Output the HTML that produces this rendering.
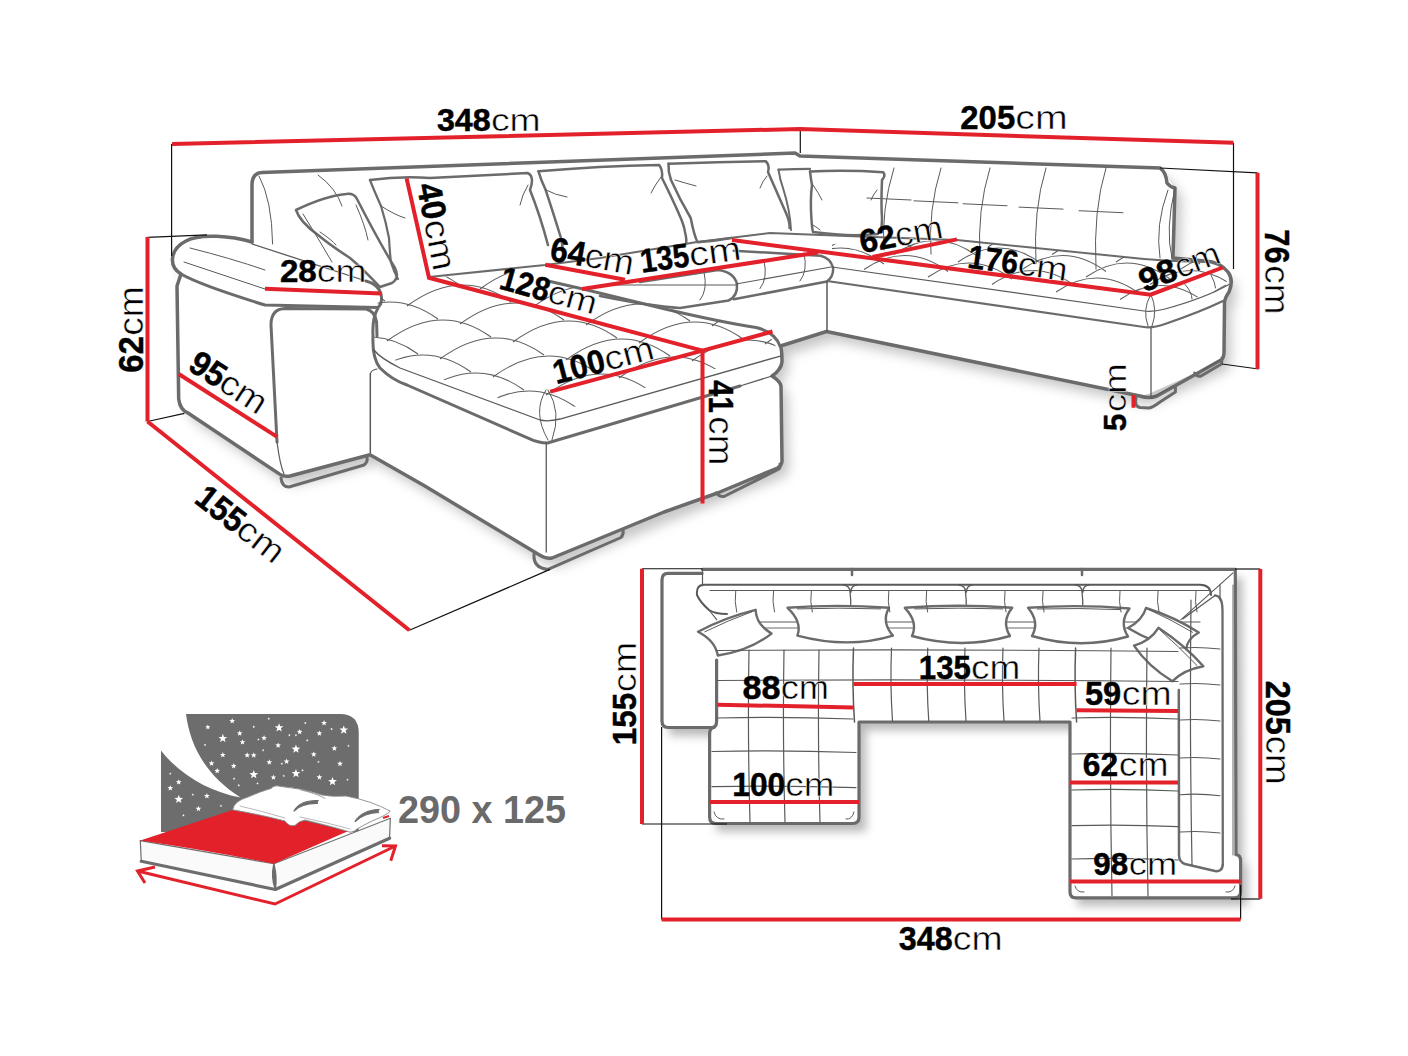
<!DOCTYPE html>
<html><head><meta charset="utf-8"><title>sofa</title>
<style>
html,body{margin:0;padding:0;background:#fff;width:1408px;height:1056px;overflow:hidden}
svg{display:block}
text{font-family:"Liberation Sans",sans-serif}
</style></head><body>
<svg width="1408" height="1056" viewBox="0 0 1408 1056">
<defs>
<filter id="blur" x="-20%" y="-20%" width="140%" height="140%"><feGaussianBlur stdDeviation="6"/></filter>
<filter id="blur2" x="-20%" y="-20%" width="140%" height="140%"><feGaussianBlur stdDeviation="5"/></filter>
</defs>
<rect width="1408" height="1056" fill="#fff"/>
<g filter="url(#blur)"><path d="M252,173 L795,153 L800,156 L1160,168 L1175,188 L1173,258 L1228,272 L1229,292 L1224,302 L1224,352 L1221,361.5 L1148.5,394 L1140,396 L826.5,331.5 L780.5,346 L782,362 L772,376 L781,386 L782,461 L777.5,468 L664,512 L552,558 L538.7,554.4 L424,485.6 L370,454.7 L290,476 L280,474.4 L188,413 L178.7,399 L177,286 L181,274 L172,262 L186,241 L252,242 Z" transform="translate(7,9)" fill="#000" opacity="0.22"/></g>
<path d="M252,173 L795,153 L800,156 L1160,168 L1175,188 L1173,258 L1228,272 L1229,292 L1224,302 L1224,352 L1221,361.5 L1148.5,394 L1140,396 L826.5,331.5 L780.5,346 L782,362 L772,376 L781,386 L782,461 L777.5,468 L664,512 L552,558 L538.7,554.4 L424,485.6 L370,454.7 L290,476 L280,474.4 L188,413 L178.7,399 L177,286 L181,274 L172,262 L186,241 L252,242 Z" fill="#fff"/>
<path d="M252,242 L252,185 Q252,173 262,172.5 L795,153 L800,156 L1160,168 Q1166,172 1167,183 Q1170,187 1175,188 L1173,258" fill="none" stroke="#6b6b6b" stroke-width="3.5" stroke-linejoin="round" stroke-linecap="round" />
<path d="M252,242 C232,236 200,233 186,241 C170,249 168,266 181,274 L177,286 L178.7,399 Q180,410 188,413 L280,474.4 Q284,477 290,476 L370,454.7 L424,485.6 L538.7,554.4 Q546,559 552,558 L664,512 L717.5,493 L777.5,468 Q782,465 782,461 L781,386 Q780,381 772,376 Q781,370 782,362 Q782,350 780.5,346 L826.5,331.5 L1140,396 Q1149,399 1157,396 L1221,360 Q1224,358 1224,352 L1224.5,304 Q1224,299 1229,292 Q1234,280 1228,272 Q1220,262 1205,261 L1173,258" fill="none" stroke="#6b6b6b" stroke-width="3.5" stroke-linejoin="round" stroke-linecap="round" />
<path d="M181,274 Q200,285 265,305 L377.5,307.5 Q383,304 381,294 Q378,284 366,281" fill="none" stroke="#6b6b6b" stroke-width="3" stroke-linejoin="round" stroke-linecap="round" />
<path d="M252,244 L366,281" fill="none" stroke="#5a5a5a" stroke-width="1.3" stroke-linejoin="round" stroke-linecap="round" />
<path d="M184,262 L265,289" fill="none" stroke="#5a5a5a" stroke-width="1" stroke-linejoin="round" stroke-linecap="round" />
<path d="M190,248 Q230,258 265,270" fill="none" stroke="#5a5a5a" stroke-width="1" stroke-linejoin="round" stroke-linecap="round" />
<path d="M377,336 L376.6,322 Q375,311 366,309 L285,308.5 Q271,309 271,325 L277,442" fill="none" stroke="#6b6b6b" stroke-width="3" stroke-linejoin="round" stroke-linecap="round" />
<path d="M277,442 Q280,465 284,474" fill="none" stroke="#5a5a5a" stroke-width="1.2" stroke-linejoin="round" stroke-linecap="round" />
<path d="M281,478 Q282,487 289,487 L364,465 Q368,462 367,457" fill="none" stroke="#6b6b6b" stroke-width="3" stroke-linejoin="round" stroke-linecap="round" />
<path d="M534,554 Q533,568 548,569.4 L621,537.5 Q624,534 623,530" fill="none" stroke="#6b6b6b" stroke-width="3" stroke-linejoin="round" stroke-linecap="round" />
<path d="M716.5,492.75 Q719,497 724,496.5 L779,469 Q781,466 780,464" fill="none" stroke="#6b6b6b" stroke-width="3" stroke-linejoin="round" stroke-linecap="round" />
<path d="M1136,398 Q1134,406 1140,407.5 L1148.6,408 Q1152,408 1160,402 L1175.4,392 L1175.4,387" fill="none" stroke="#6b6b6b" stroke-width="3" stroke-linejoin="round" stroke-linecap="round" />
<path d="M1151,398 L1173,386" fill="none" stroke="#5a5a5a" stroke-width="1" stroke-linejoin="round" stroke-linecap="round" />
<path d="M1194.6,373 Q1197,377 1201,376 L1221.5,364 L1222,358" fill="none" stroke="#6b6b6b" stroke-width="3" stroke-linejoin="round" stroke-linecap="round" />
<path d="M1203,370 L1220,360" fill="none" stroke="#5a5a5a" stroke-width="1" stroke-linejoin="round" stroke-linecap="round" />
<path d="M378,308 Q372,318 373,336 Q372,358 380,368 Q392,380 407,385 L528.7,438.4 Q538,443 547.5,443 L740,386" fill="none" stroke="#6b6b6b" stroke-width="3" stroke-linejoin="round" stroke-linecap="round" />
<path d="M740,386 L772,376" fill="none" stroke="#5a5a5a" stroke-width="1.3" stroke-linejoin="round" stroke-linecap="round" />
<path d="M374,350 Q380,358 400,368 L540,420 Q548,422 560,419 L780.5,356" fill="none" stroke="#5a5a5a" stroke-width="1.3" stroke-linejoin="round" stroke-linecap="round" />
<path d="M370.3,374 L370.3,452.5" fill="none" stroke="#5a5a5a" stroke-width="1.5" stroke-linejoin="round" stroke-linecap="round" />
<path d="M370.3,374 Q371,370 377,369" fill="none" stroke="#5a5a5a" stroke-width="1.2" stroke-linejoin="round" stroke-linecap="round" />
<path d="M546.25,443 L546.25,552" fill="none" stroke="#5a5a5a" stroke-width="1.3" stroke-linejoin="round" stroke-linecap="round" />
<path d="M548,281 L583,289 L664,308.8 Q720,322 756,327.5 Q775,332 780,346" fill="none" stroke="#6b6b6b" stroke-width="3" stroke-linejoin="round" stroke-linecap="round" />
<path d="M600,296 Q650,306 680,308 L728.6,300.5 Q738,296 737,284 Q734,272 718,270 L640,282" fill="none" stroke="#6b6b6b" stroke-width="2.5" stroke-linejoin="round" stroke-linecap="round" />
<path d="M600,285 L736,285" fill="none" stroke="#5a5a5a" stroke-width="1.1" stroke-linejoin="round" stroke-linecap="round" />
<path d="M733.7,299.3 L827,281.4 Q834,276 833,267.3 Q830,258 820.6,255.8 L733.7,250.7" fill="none" stroke="#6b6b6b" stroke-width="2.5" stroke-linejoin="round" stroke-linecap="round" />
<path d="M736,284 L831,267" fill="none" stroke="#5a5a5a" stroke-width="1.1" stroke-linejoin="round" stroke-linecap="round" />
<path d="M827,281 L827,331.2" fill="none" stroke="#5a5a5a" stroke-width="1.5" stroke-linejoin="round" stroke-linecap="round" />
<path d="M832,267 L1144,311 Q1152,312.5 1165,309 Q1205,298 1229,284.5" fill="none" stroke="#5a5a5a" stroke-width="1.2" stroke-linejoin="round" stroke-linecap="round" />
<path d="M827,281 L1144,327 Q1152,328.5 1165,324 Q1200,312 1223,301" fill="none" stroke="#6b6b6b" stroke-width="2.2" stroke-linejoin="round" stroke-linecap="round" />
<path d="M957,240 L1144,259 Q1180,262 1212,262" fill="none" stroke="#6b6b6b" stroke-width="2" stroke-linejoin="round" stroke-linecap="round" />
<path d="M429,277 L545,265 L600,258 L697,242 L770,233 L860,236.6 L957,240" fill="none" stroke="#6b6b6b" stroke-width="2" stroke-linejoin="round" stroke-linecap="round" />
<path d="M1175,188 Q1165,230 1172,258" fill="none" stroke="#5a5a5a" stroke-width="1" stroke-linejoin="round" stroke-linecap="round" />
<path d="M1168,190 Q1155,225 1160,258" fill="none" stroke="#5a5a5a" stroke-width="1" stroke-linejoin="round" stroke-linecap="round" />
<path d="M1150.6,294.7 Q1142,310 1148,326" fill="none" stroke="#5a5a5a" stroke-width="1" stroke-linejoin="round" stroke-linecap="round" />
<path d="M1151,294.7 Q1158,310 1152,326" fill="none" stroke="#5a5a5a" stroke-width="1" stroke-linejoin="round" stroke-linecap="round" />
<path d="M1151,328 L1151,398" fill="none" stroke="#5a5a5a" stroke-width="1.3" stroke-linejoin="round" stroke-linecap="round" />
<path d="M894,168 Q881,210 884,250.0" fill="none" stroke="#5a5a5a" stroke-width="1" stroke-linejoin="round" stroke-linecap="round" />
<path d="M867,198.0 L911,200.0" fill="none" stroke="#5a5a5a" stroke-width="1" stroke-linejoin="round" stroke-linecap="round" />
<path d="M941,168 Q928,210 931,254.23" fill="none" stroke="#5a5a5a" stroke-width="1" stroke-linejoin="round" stroke-linecap="round" />
<path d="M914,200.82 L958,202.82" fill="none" stroke="#5a5a5a" stroke-width="1" stroke-linejoin="round" stroke-linecap="round" />
<path d="M990,168 Q977,210 980,258.64" fill="none" stroke="#5a5a5a" stroke-width="1" stroke-linejoin="round" stroke-linecap="round" />
<path d="M963,203.76 L1007,205.76" fill="none" stroke="#5a5a5a" stroke-width="1" stroke-linejoin="round" stroke-linecap="round" />
<path d="M1046,168 Q1033,210 1036,263.68" fill="none" stroke="#5a5a5a" stroke-width="1" stroke-linejoin="round" stroke-linecap="round" />
<path d="M1019,207.12 L1063,209.12" fill="none" stroke="#5a5a5a" stroke-width="1" stroke-linejoin="round" stroke-linecap="round" />
<path d="M1106,168 Q1093,210 1096,269.08" fill="none" stroke="#5a5a5a" stroke-width="1" stroke-linejoin="round" stroke-linecap="round" />
<path d="M1079,210.72 L1123,212.72" fill="none" stroke="#5a5a5a" stroke-width="1" stroke-linejoin="round" stroke-linecap="round" />
<path d="M259,176 Q272,200 272.6,244" fill="none" stroke="#5a5a5a" stroke-width="1" stroke-linejoin="round" stroke-linecap="round" />
<path d="M318,175 Q336,188 342,206" fill="none" stroke="#5a5a5a" stroke-width="1" stroke-linejoin="round" stroke-linecap="round" />
<path d="M296,210 Q325,196 346,194 Q354,193 357,199 Q378,240 395,268 Q400,278 392,283 L380,287 Q362,268 350,258 Q330,245 318,235 Q300,222 296,210 Z" fill="none" stroke="#6b6b6b" stroke-width="2.5" stroke-linejoin="round" stroke-linecap="round" />
<path d="M303,214 Q318,238 332,262" fill="none" stroke="#5a5a5a" stroke-width="1" stroke-linejoin="round" stroke-linecap="round" />
<path d="M320,232 Q332,240 336,245" fill="none" stroke="#5a5a5a" stroke-width="1" stroke-linejoin="round" stroke-linecap="round" />
<path d="M356,205 Q365,225 368,240" fill="none" stroke="#5a5a5a" stroke-width="1" stroke-linejoin="round" stroke-linecap="round" />
<path d="M370,180 Q400,176 430,178 L527.5,173 Q535,176 530,190 Q540,215 548,245" fill="none" stroke="#6b6b6b" stroke-width="2.5" stroke-linejoin="round" stroke-linecap="round" />
<path d="M370,180 Q373,188 381,206 Q386,222 389,238 Q390,255 391,262.5 Q394,272 398,279" fill="none" stroke="#6b6b6b" stroke-width="2.2" stroke-linejoin="round" stroke-linecap="round" />
<path d="M381,206 Q395,215 405,218" fill="none" stroke="#5a5a5a" stroke-width="1" stroke-linejoin="round" stroke-linecap="round" />
<path d="M528,185 Q522,195 520,205" fill="none" stroke="#5a5a5a" stroke-width="1" stroke-linejoin="round" stroke-linecap="round" />
<path d="M538.5,171.3 Q600,166 659.2,165 Q663,170 662,178 Q672,198 679,214 Q684,225 685,232 Q687,240 686,244" fill="none" stroke="#6b6b6b" stroke-width="2.5" stroke-linejoin="round" stroke-linecap="round" />
<path d="M538.5,171.3 Q541,180 545.6,189.8 Q553,212 561,238 Q562,243 563,250" fill="none" stroke="#6b6b6b" stroke-width="2.5" stroke-linejoin="round" stroke-linecap="round" />
<path d="M545.6,189.8 Q555,195 567,197" fill="none" stroke="#5a5a5a" stroke-width="1" stroke-linejoin="round" stroke-linecap="round" />
<path d="M661,177 Q655,185 651,193" fill="none" stroke="#5a5a5a" stroke-width="1" stroke-linejoin="round" stroke-linecap="round" />
<path d="M668.5,163.75 Q720,162 765.7,161.2 Q770,165 768,172 Q778,195 786,213 Q790,222 789.5,228" fill="none" stroke="#6b6b6b" stroke-width="2.5" stroke-linejoin="round" stroke-linecap="round" />
<path d="M668.5,163.75 Q668,172 671,180 Q680,200 690.7,218 Q694,235 697.5,242.2 Q715,241 731.6,238" fill="none" stroke="#6b6b6b" stroke-width="2.5" stroke-linejoin="round" stroke-linecap="round" />
<path d="M675,180 Q685,183 696,186" fill="none" stroke="#5a5a5a" stroke-width="1" stroke-linejoin="round" stroke-linecap="round" />
<path d="M767,176 Q762,182 760,188" fill="none" stroke="#5a5a5a" stroke-width="1" stroke-linejoin="round" stroke-linecap="round" />
<path d="M778.5,169.7 Q795,169 810,168.9" fill="none" stroke="#6b6b6b" stroke-width="2.2" stroke-linejoin="round" stroke-linecap="round" />
<path d="M778.5,169.7 Q780,180 783,188 Q790,210 791,230" fill="none" stroke="#6b6b6b" stroke-width="2" stroke-linejoin="round" stroke-linecap="round" />
<path d="M810,171.4 Q850,170 883.3,172.3 Q886,176 882,180 Q881,205 882,218 Q882,228 880,232" fill="none" stroke="#6b6b6b" stroke-width="2.5" stroke-linejoin="round" stroke-linecap="round" />
<path d="M810,171.4 Q811,180 812,185 Q810,200 811.5,220 Q812,228 813,232 Q850,237 878,234" fill="none" stroke="#6b6b6b" stroke-width="2.5" stroke-linejoin="round" stroke-linecap="round" />
<path d="M813,185 Q818,192 822,200" fill="none" stroke="#5a5a5a" stroke-width="1" stroke-linejoin="round" stroke-linecap="round" />
<path d="M877,190 Q873,195 871,200" fill="none" stroke="#5a5a5a" stroke-width="1" stroke-linejoin="round" stroke-linecap="round" />
<path d="M813,225 Q818,228 820,230" fill="none" stroke="#5a5a5a" stroke-width="1" stroke-linejoin="round" stroke-linecap="round" />
<clipPath id="chz"><path d="M378,300 L373,350 L420,372 L547,414 L779,352 L770,336 L745,325 L664,309 L572,286 L500,272 L430,278 L400,285 Z"/></clipPath>
<g clip-path="url(#chz)"><path d="M261,340 Q315.0,300.0 365,336 M314,358 Q368.0,318.0 418,354 M367,376 Q421.0,336.0 471,372 M420,394 Q474.0,354.0 524,390 M473,412 Q527.0,372.0 577,408 M526,430 Q580.0,390.0 630,426 M579,448 Q633.0,408.0 683,444 M632,466 Q686.0,426.0 736,462 M685,484 Q739.0,444.0 789,480 M281,305 Q335.0,265.0 385,301 M334,323 Q388.0,283.0 438,319 M387,341 Q441.0,301.0 491,337 M440,359 Q494.0,319.0 544,355 M493,377 Q547.0,337.0 597,373 M546,395 Q600.0,355.0 650,391 M599,413 Q653.0,373.0 703,409 M652,431 Q706.0,391.0 756,427 M705,449 Q759.0,409.0 809,445 M301,270 Q355.0,230.0 405,266 M354,288 Q408.0,248.0 458,284 M407,306 Q461.0,266.0 511,302 M460,324 Q514.0,284.0 564,320 M513,342 Q567.0,302.0 617,338 M566,360 Q620.0,320.0 670,356 M619,378 Q673.0,338.0 723,374 M672,396 Q726.0,356.0 776,392 M725,414 Q779.0,374.0 829,410 M321,235 Q375.0,195.0 425,231 M374,253 Q428.0,213.0 478,249 M427,271 Q481.0,231.0 531,267 M480,289 Q534.0,249.0 584,285 M533,307 Q587.0,267.0 637,303 M586,325 Q640.0,285.0 690,321 M639,343 Q693.0,303.0 743,339 M692,361 Q746.0,321.0 796,357 M745,379 Q799.0,339.0 849,375 M341,200 Q395.0,160.0 445,196 M394,218 Q448.0,178.0 498,214 M447,236 Q501.0,196.0 551,232 M500,254 Q554.0,214.0 604,250 M553,272 Q607.0,232.0 657,268 M606,290 Q660.0,250.0 710,286 M659,308 Q713.0,268.0 763,304 M712,326 Q766.0,286.0 816,322 M765,344 Q819.0,304.0 869,340 M361,165 Q415.0,125.0 465,161 M414,183 Q468.0,143.0 518,179 M467,201 Q521.0,161.0 571,197 M520,219 Q574.0,179.0 624,215 M573,237 Q627.0,197.0 677,233 M626,255 Q680.0,215.0 730,251 M679,273 Q733.0,233.0 783,269 M732,291 Q786.0,251.0 836,287 M785,309 Q839.0,269.0 889,305" fill="none" stroke="#5f5f5f" stroke-width="1.05"/></g>
<path d="M546,390 Q532,412 548,440" fill="none" stroke="#5a5a5a" stroke-width="1" stroke-linejoin="round" stroke-linecap="round" />
<path d="M548,390 Q562,412 552,440" fill="none" stroke="#5a5a5a" stroke-width="1" stroke-linejoin="round" stroke-linecap="round" />
<path d="M700,300.0 Q708,290.0 704,272.0" fill="none" stroke="#5a5a5a" stroke-width="1" stroke-linejoin="round" stroke-linecap="round" />
<path d="M760,288.6 Q768,278.6 764,260.6" fill="none" stroke="#5a5a5a" stroke-width="1" stroke-linejoin="round" stroke-linecap="round" />
<path d="M800,281.0 Q808,271.0 804,253.0" fill="none" stroke="#5a5a5a" stroke-width="1" stroke-linejoin="round" stroke-linecap="round" />
<clipPath id="rsz"><path d="M832,244 L957,240 L1144,259 L1212,262 L1228,275 L1225,290 L1150,310 L832,267 Z"/></clipPath>
<g clip-path="url(#rsz)"><path d="M736,254.5 Q778.0,225.5 820,256.5 M800,262.0 Q842.0,233.0 884,264.0 M864,269.5 Q906.0,240.5 948,271.5 M928,277.0 Q970.0,248.0 1012,279.0 M992,284.5 Q1034.0,255.5 1076,286.5 M1056,292.0 Q1098.0,263.0 1140,294.0 M1120,299.5 Q1162.0,270.5 1204,301.5 M1184,307.0 Q1226.0,278.0 1268,309.0 M766,239.5 Q808.0,210.5 850,241.5 M830,247.0 Q872.0,218.0 914,249.0 M894,254.5 Q936.0,225.5 978,256.5 M958,262.0 Q1000.0,233.0 1042,264.0 M1022,269.5 Q1064.0,240.5 1106,271.5 M1086,277.0 Q1128.0,248.0 1170,279.0 M1150,284.5 Q1192.0,255.5 1234,286.5 M1214,292.0 Q1256.0,263.0 1298,294.0 M796,224.5 Q838.0,195.5 880,226.5 M860,232.0 Q902.0,203.0 944,234.0 M924,239.5 Q966.0,210.5 1008,241.5 M988,247.0 Q1030.0,218.0 1072,249.0 M1052,254.5 Q1094.0,225.5 1136,256.5 M1116,262.0 Q1158.0,233.0 1200,264.0 M1180,269.5 Q1222.0,240.5 1264,271.5 M1244,277.0 Q1286.0,248.0 1328,279.0" fill="none" stroke="#5f5f5f" stroke-width="1.05"/></g>
<path d="M1185,284.5 Q1192,292 1192,299" fill="none" stroke="#5a5a5a" stroke-width="1" stroke-linejoin="round" stroke-linecap="round" />
<path d="M1211,275 Q1215,282 1215.6,288" fill="none" stroke="#5a5a5a" stroke-width="1" stroke-linejoin="round" stroke-linecap="round" />
<line x1="171.6" y1="144" x2="171.6" y2="256" stroke="#111" stroke-width="1.2" stroke-linecap="butt"/>
<line x1="147.5" y1="237.3" x2="207" y2="234.8" stroke="#111" stroke-width="1.2" stroke-linecap="butt"/>
<line x1="147.5" y1="421.5" x2="184.4" y2="413.4" stroke="#111" stroke-width="1.2" stroke-linecap="butt"/>
<line x1="409.4" y1="630.3" x2="550" y2="569.4" stroke="#111" stroke-width="1.2" stroke-linecap="butt"/>
<line x1="800.3" y1="129" x2="800.3" y2="153" stroke="#111" stroke-width="1.2" stroke-linecap="butt"/>
<line x1="1233.5" y1="142.8" x2="1233.5" y2="269" stroke="#111" stroke-width="1.2" stroke-linecap="butt"/>
<line x1="1160" y1="168" x2="1257.5" y2="172.8" stroke="#111" stroke-width="1.2" stroke-linecap="butt"/>
<line x1="1222" y1="364" x2="1258.5" y2="369" stroke="#111" stroke-width="1.2" stroke-linecap="butt"/>
<path d="M172,144 L800,129 L1233.5,142.8" fill="none" stroke="#e3212b" stroke-width="4" stroke-linejoin="miter"/>
<line x1="147.5" y1="237" x2="147.5" y2="421.5" stroke="#e3212b" stroke-width="4" stroke-linecap="butt"/>
<line x1="147.5" y1="421.5" x2="409.4" y2="630.3" stroke="#e3212b" stroke-width="4" stroke-linecap="butt"/>
<line x1="1257.5" y1="172.8" x2="1257.5" y2="369" stroke="#e3212b" stroke-width="4" stroke-linecap="butt"/>
<path d="M406.6,178.4 L429,277.8 L702.5,350.6" fill="none" stroke="#e3212b" stroke-width="4" stroke-linejoin="miter"/>
<path d="M550.3,391.6 L702.5,350.6 L772.5,331.5" fill="none" stroke="#e3212b" stroke-width="4" stroke-linejoin="miter"/>
<line x1="702.5" y1="350.6" x2="702.5" y2="503.4" stroke="#e3212b" stroke-width="4" stroke-linecap="butt"/>
<line x1="265" y1="288.75" x2="381.3" y2="293.4" stroke="#e3212b" stroke-width="4" stroke-linecap="butt"/>
<line x1="178.75" y1="374" x2="277.2" y2="436.9" stroke="#e3212b" stroke-width="4" stroke-linecap="butt"/>
<path d="M545.3,264.7 L625,279.7" fill="none" stroke="#e3212b" stroke-width="4" stroke-linejoin="miter"/>
<line x1="582" y1="289" x2="818" y2="252.5" stroke="#e3212b" stroke-width="4" stroke-linecap="butt"/>
<path d="M732,240 L1150.6,294.7 L1222.8,267.5" fill="none" stroke="#e3212b" stroke-width="4" stroke-linejoin="miter"/>
<line x1="872.5" y1="257" x2="957" y2="239.4" stroke="#e3212b" stroke-width="4" stroke-linecap="butt"/>
<line x1="1133.5" y1="395" x2="1133.5" y2="407.75" stroke="#e3212b" stroke-width="4" stroke-linecap="butt"/>
<g filter="url(#blur2)"><path d="M662,573 L702.5,569.3 L1235.3,569.3 L1236,854.7 L1240.6,858 L1240.6,897.8 L1070,897.8 L1070,722 L859,722 L859,823.5 L709.6,823.5 L709.6,728 L662,727.5 Z" transform="translate(7,8)" fill="#000" opacity="0.28"/></g>
<path d="M662,573 L702.5,569.3 L1235.3,569.3 L1236,854.7 L1240.6,858 L1240.6,897.8 L1070,897.8 L1070,722 L859,722 L859,823.5 L709.6,823.5 L709.6,728 L662,727.5 Z" fill="#fff"/>
<path d="M702.5,569.3 L1235.3,569.3 L1236,854.7 Q1240.6,855 1240.6,861 L1240.6,892 Q1240.6,897.8 1234,897.8 L1076,897.8 Q1070,897.8 1070,892 L1070,722 L859,722 L859,817 Q859,823.5 853,823.5 L716,823.5 Q709.6,823.5 709.6,817 L709.6,734 Q709.6,728 714,727.5" fill="none" stroke="#6b6b6b" stroke-width="3.2" stroke-linejoin="round" stroke-linecap="round" />
<path d="M702,573.4 L668,573.4 Q662,573.4 662,580 L662,721 Q662,727.5 668,727.5 L712,727.5 Q716.6,727.5 716.6,721 L716.6,660" fill="none" stroke="#6b6b6b" stroke-width="3.2" stroke-linejoin="round" stroke-linecap="round" />
<path d="M1082,569 L1082,575" fill="none" stroke="#6b6b6b" stroke-width="2.5" stroke-linejoin="round" stroke-linecap="round" />
<path d="M852,569 L852,575" fill="none" stroke="#6b6b6b" stroke-width="2.5" stroke-linejoin="round" stroke-linecap="round" />
<path d="M702.5,569.3 L702.5,584" fill="none" stroke="#5a5a5a" stroke-width="1.2" stroke-linejoin="round" stroke-linecap="round" />
<path d="M727,614 Q715,614 709,610 Q700,602 697,595 Q696,585 704,584.7 L1200,584.7 Q1211,585 1211,595" fill="none" stroke="#5a5a5a" stroke-width="2" stroke-linejoin="round" stroke-linecap="round" />
<path d="M709,610 L716.7,619.7" fill="none" stroke="#5a5a5a" stroke-width="1.2" stroke-linejoin="round" stroke-linecap="round" />
<path d="M1215,595.4 Q1222.5,596 1222.5,610 L1222.8,865" fill="none" stroke="#6b6b6b" stroke-width="2.3" stroke-linejoin="round" stroke-linecap="round" />
<path d="M1215,595.4 L1183,618.8" fill="none" stroke="#5a5a5a" stroke-width="1.3" stroke-linejoin="round" stroke-linecap="round" />
<path d="M1220,585 L1220,600" fill="none" stroke="#5a5a5a" stroke-width="1.2" stroke-linejoin="round" stroke-linecap="round" />
<path d="M1233,572.8 L1181,619.7" fill="none" stroke="#5a5a5a" stroke-width="1.1" stroke-linejoin="round" stroke-linecap="round" />
<path d="M727,622 L1200,622" fill="none" stroke="#5a5a5a" stroke-width="1.1" stroke-linejoin="round" stroke-linecap="round" />
<path d="M740,628 L1180,628" fill="none" stroke="#5a5a5a" stroke-width="0.9" stroke-linejoin="round" stroke-linecap="round" />
<path d="M710,590.5 L1210,590.5" fill="none" stroke="#5a5a5a" stroke-width="1.2" stroke-linejoin="round" stroke-linecap="round" />
<path d="M843,585 Q850,585.5 850,592 Q852,608 849,622 M857,585 Q851,585.5 851,592" fill="none" stroke="#5a5a5a" stroke-width="1.3" stroke-linejoin="round" stroke-linecap="round" />
<path d="M958.5,585 Q965.5,585.5 965.5,592 Q967.5,608 964.5,622 M972.5,585 Q966.5,585.5 966.5,592" fill="none" stroke="#5a5a5a" stroke-width="1.3" stroke-linejoin="round" stroke-linecap="round" />
<path d="M1075,585 Q1082,585.5 1082,592 Q1084,608 1081,622 M1089,585 Q1083,585.5 1083,592" fill="none" stroke="#5a5a5a" stroke-width="1.3" stroke-linejoin="round" stroke-linecap="round" />
<path d="M1233,585 L1233,855" fill="none" stroke="#5a5a5a" stroke-width="0.9" stroke-linejoin="round" stroke-linecap="round" />
<path d="M1222.8,865 Q1222,872 1215,871 L1185,864 Q1179,862 1179,855 L1178.8,690" fill="none" stroke="#6b6b6b" stroke-width="2.5" stroke-linejoin="round" stroke-linecap="round" />
<path d="M698.0,631.7 Q724.4,617.5 755.6,609.8 Q756.1,624.6 771.5,633.6 Q749.5,650.9 717.8,655.5 Q715.3,640.7 698.0,631.7 Z" fill="#fff" stroke="#6b6b6b" stroke-width="2.4" stroke-linejoin="round"/>
<path d="M704.8,631.8 Q728.4,620.2 752.0,611.7" fill="none" stroke="#5a5a5a" stroke-width="1" stroke-linejoin="round" stroke-linecap="round" />
<path d="M787.5,607.8 Q837.3,603.9 889.0,607.8 Q881.0,621.7 892.9,635.6 Q848.5,649.2 797.4,635.6 Q802.5,621.7 787.5,607.8 Z" fill="#fff" stroke="#6b6b6b" stroke-width="2.4" stroke-linejoin="round"/>
<path d="M797.3,608.9 Q838.9,607.4 880.5,608.9" fill="none" stroke="#5a5a5a" stroke-width="1" stroke-linejoin="round" stroke-linecap="round" />
<path d="M904.8,607.8 Q958.1,603.8 1012.2,607.8 Q1001.1,621.9 1010.0,636.0 Q962.2,649.9 912.0,636.0 Q918.4,621.9 904.8,607.8 Z" fill="#fff" stroke="#6b6b6b" stroke-width="2.4" stroke-linejoin="round"/>
<path d="M914.7,608.9 Q958.7,607.4 1002.8,608.9" fill="none" stroke="#5a5a5a" stroke-width="1" stroke-linejoin="round" stroke-linecap="round" />
<path d="M1028.0,607.8 Q1078.6,604.2 1129.5,608.5 Q1118.8,622.4 1128.0,636.5 Q1080.6,650.2 1032.0,636.0 Q1040.0,622.0 1028.0,607.8 Z" fill="#fff" stroke="#6b6b6b" stroke-width="2.4" stroke-linejoin="round"/>
<path d="M1037.2,609.0 Q1078.9,607.8 1120.5,609.6" fill="none" stroke="#5a5a5a" stroke-width="1" stroke-linejoin="round" stroke-linecap="round" />
<path d="M1146.0,608.0 Q1174.9,617.2 1198.8,632.5 Q1186.8,638.9 1186.0,650.0 Q1153.2,643.6 1128.0,628.0 Q1142.5,620.3 1146.0,608.0 Z" fill="#fff" stroke="#6b6b6b" stroke-width="2.4" stroke-linejoin="round"/>
<path d="M1149.4,609.8 Q1171.0,619.5 1192.6,632.3" fill="none" stroke="#5a5a5a" stroke-width="1" stroke-linejoin="round" stroke-linecap="round" />
<path d="M1158.4,627.8 Q1184.3,645.0 1203.4,666.2 Q1183.5,669.8 1172.5,681.2 Q1148.1,666.5 1134.0,645.6 Q1150.7,640.7 1158.4,627.8 Z" fill="#fff" stroke="#6b6b6b" stroke-width="2.4" stroke-linejoin="round"/>
<path d="M1160.0,630.0 Q1178.4,646.2 1196.9,665.4" fill="none" stroke="#5a5a5a" stroke-width="1" stroke-linejoin="round" stroke-linecap="round" />
<path d="M717,650.5 Q947.5,649.0 1178,651.5" fill="none" stroke="#5a5a5a" stroke-width="1.2" stroke-linejoin="round" stroke-linecap="round" />
<path d="M717,680.5 Q947.5,679.0 1178,681.5" fill="none" stroke="#5a5a5a" stroke-width="1.2" stroke-linejoin="round" stroke-linecap="round" />
<path d="M717,718 Q785.0,716.5 853,719" fill="none" stroke="#5a5a5a" stroke-width="1.2" stroke-linejoin="round" stroke-linecap="round" />
<path d="M712,751.5 Q784.0,750.0 856,752.5" fill="none" stroke="#5a5a5a" stroke-width="1.2" stroke-linejoin="round" stroke-linecap="round" />
<path d="M712,786.6 Q784.0,785.1 856,787.6" fill="none" stroke="#5a5a5a" stroke-width="1.2" stroke-linejoin="round" stroke-linecap="round" />
<path d="M1072,718 Q1125.0,716.5 1178,719" fill="none" stroke="#5a5a5a" stroke-width="1.2" stroke-linejoin="round" stroke-linecap="round" />
<path d="M1072,754 Q1125.0,752.5 1178,755" fill="none" stroke="#5a5a5a" stroke-width="1.2" stroke-linejoin="round" stroke-linecap="round" />
<path d="M1072,790 Q1125.0,788.5 1178,791" fill="none" stroke="#5a5a5a" stroke-width="1.2" stroke-linejoin="round" stroke-linecap="round" />
<path d="M1072,825.6 Q1125.0,824.1 1178,826.6" fill="none" stroke="#5a5a5a" stroke-width="1.2" stroke-linejoin="round" stroke-linecap="round" />
<path d="M1072,859 Q1125.0,857.5 1178,860" fill="none" stroke="#5a5a5a" stroke-width="1.2" stroke-linejoin="round" stroke-linecap="round" />
<path d="M749,650 Q747.5,736.0 750,822" fill="none" stroke="#5a5a5a" stroke-width="1.2" stroke-linejoin="round" stroke-linecap="round" />
<path d="M784,650 Q782.5,736.0 785,822" fill="none" stroke="#5a5a5a" stroke-width="1.2" stroke-linejoin="round" stroke-linecap="round" />
<path d="M819,650 Q817.5,736.0 820,822" fill="none" stroke="#5a5a5a" stroke-width="1.2" stroke-linejoin="round" stroke-linecap="round" />
<path d="M891.5,648 Q890.0,684.5 892.5,721" fill="none" stroke="#5a5a5a" stroke-width="1.2" stroke-linejoin="round" stroke-linecap="round" />
<path d="M927.75,648 Q926.25,684.5 928.75,721" fill="none" stroke="#5a5a5a" stroke-width="1.2" stroke-linejoin="round" stroke-linecap="round" />
<path d="M965,648 Q963.5,684.5 966,721" fill="none" stroke="#5a5a5a" stroke-width="1.2" stroke-linejoin="round" stroke-linecap="round" />
<path d="M1003,648 Q1001.5,684.5 1004,721" fill="none" stroke="#5a5a5a" stroke-width="1.2" stroke-linejoin="round" stroke-linecap="round" />
<path d="M1039,648 Q1037.5,684.5 1040,721" fill="none" stroke="#5a5a5a" stroke-width="1.2" stroke-linejoin="round" stroke-linecap="round" />
<path d="M853.5,648 Q852.0,685.0 854.5,722" fill="none" stroke="#5a5a5a" stroke-width="1.5" stroke-linejoin="round" stroke-linecap="round" />
<path d="M1075.6,648 Q1074.1,685.0 1076.6,722" fill="none" stroke="#5a5a5a" stroke-width="1.5" stroke-linejoin="round" stroke-linecap="round" />
<path d="M1111,648 Q1109.5,772.0 1112,896" fill="none" stroke="#5a5a5a" stroke-width="1.2" stroke-linejoin="round" stroke-linecap="round" />
<path d="M1147,648 Q1145.5,772.0 1148,896" fill="none" stroke="#5a5a5a" stroke-width="1.2" stroke-linejoin="round" stroke-linecap="round" />
<path d="M1191,600 Q1189.5,732.5 1192,865" fill="none" stroke="#5a5a5a" stroke-width="1.2" stroke-linejoin="round" stroke-linecap="round" />
<path d="M1180,758 Q1200.0,756.5 1220,759" fill="none" stroke="#5a5a5a" stroke-width="1.1" stroke-linejoin="round" stroke-linecap="round" />
<path d="M1180,794.7 Q1200.0,793.2 1220,795.7" fill="none" stroke="#5a5a5a" stroke-width="1.1" stroke-linejoin="round" stroke-linecap="round" />
<path d="M1180,832 Q1200.0,830.5 1220,833" fill="none" stroke="#5a5a5a" stroke-width="1.1" stroke-linejoin="round" stroke-linecap="round" />
<path d="M1180,720 Q1200.0,718.5 1220,721" fill="none" stroke="#5a5a5a" stroke-width="1.1" stroke-linejoin="round" stroke-linecap="round" />
<path d="M1180,684 Q1200.0,682.5 1220,685" fill="none" stroke="#5a5a5a" stroke-width="1.1" stroke-linejoin="round" stroke-linecap="round" />
<path d="M1180,648 Q1200.0,646.5 1220,649" fill="none" stroke="#5a5a5a" stroke-width="1.1" stroke-linejoin="round" stroke-linecap="round" />
<path d="M735.7,591 Q734.2,601.5 736.7,612" fill="none" stroke="#5a5a5a" stroke-width="1" stroke-linejoin="round" stroke-linecap="round" />
<path d="M773.5,591 Q772.0,601.5 774.5,612" fill="none" stroke="#5a5a5a" stroke-width="1" stroke-linejoin="round" stroke-linecap="round" />
<path d="M811.3,591 Q809.8,601.5 812.3,612" fill="none" stroke="#5a5a5a" stroke-width="1" stroke-linejoin="round" stroke-linecap="round" />
<path d="M888.8,591 Q887.3,601.5 889.8,612" fill="none" stroke="#5a5a5a" stroke-width="1" stroke-linejoin="round" stroke-linecap="round" />
<path d="M926.6,591 Q925.1,601.5 927.6,612" fill="none" stroke="#5a5a5a" stroke-width="1" stroke-linejoin="round" stroke-linecap="round" />
<path d="M1005,591 Q1003.5,601.5 1006,612" fill="none" stroke="#5a5a5a" stroke-width="1" stroke-linejoin="round" stroke-linecap="round" />
<path d="M1043,591 Q1041.5,601.5 1044,612" fill="none" stroke="#5a5a5a" stroke-width="1" stroke-linejoin="round" stroke-linecap="round" />
<path d="M1120,591 Q1118.5,601.5 1121,612" fill="none" stroke="#5a5a5a" stroke-width="1" stroke-linejoin="round" stroke-linecap="round" />
<path d="M1158,591 Q1156.5,601.5 1159,612" fill="none" stroke="#5a5a5a" stroke-width="1" stroke-linejoin="round" stroke-linecap="round" />
<path d="M1196,591 Q1194.5,601.5 1197,612" fill="none" stroke="#5a5a5a" stroke-width="1" stroke-linejoin="round" stroke-linecap="round" />
<path d="M714,812 Q716,820 724,819" fill="none" stroke="#5a5a5a" stroke-width="1" stroke-linejoin="round" stroke-linecap="round" />
<path d="M854,812 Q852,820 846,819" fill="none" stroke="#5a5a5a" stroke-width="1" stroke-linejoin="round" stroke-linecap="round" />
<path d="M1075,886 Q1077,893 1084,892" fill="none" stroke="#5a5a5a" stroke-width="1" stroke-linejoin="round" stroke-linecap="round" />
<path d="M1235,886 Q1233,893 1226,892" fill="none" stroke="#5a5a5a" stroke-width="1" stroke-linejoin="round" stroke-linecap="round" />
<line x1="642" y1="568.75" x2="702.5" y2="568.75" stroke="#111" stroke-width="1.2" stroke-linecap="butt"/>
<line x1="642" y1="824" x2="727" y2="824" stroke="#111" stroke-width="1.2" stroke-linecap="butt"/>
<line x1="661.6" y1="727" x2="661.6" y2="919.4" stroke="#111" stroke-width="1.2" stroke-linecap="butt"/>
<line x1="1235" y1="569" x2="1260.3" y2="569" stroke="#111" stroke-width="1.2" stroke-linecap="butt"/>
<line x1="1231" y1="899" x2="1260.3" y2="899" stroke="#111" stroke-width="1.2" stroke-linecap="butt"/>
<line x1="1240.6" y1="885" x2="1240.6" y2="919.4" stroke="#111" stroke-width="1.2" stroke-linecap="butt"/>
<line x1="642" y1="568.75" x2="642" y2="824" stroke="#e3212b" stroke-width="4" stroke-linecap="butt"/>
<line x1="1260.3" y1="569" x2="1260.3" y2="898.8" stroke="#e3212b" stroke-width="4" stroke-linecap="butt"/>
<line x1="661.6" y1="919.4" x2="1240.6" y2="919.4" stroke="#e3212b" stroke-width="4" stroke-linecap="butt"/>
<line x1="717.5" y1="704.7" x2="853.4" y2="707.5" stroke="#e3212b" stroke-width="4" stroke-linecap="butt"/>
<line x1="853.4" y1="684" x2="1076.6" y2="684" stroke="#e3212b" stroke-width="4" stroke-linecap="butt"/>
<line x1="1076.6" y1="710.3" x2="1178" y2="711" stroke="#e3212b" stroke-width="4" stroke-linecap="butt"/>
<line x1="1070" y1="782.5" x2="1178" y2="782.5" stroke="#e3212b" stroke-width="4" stroke-linecap="butt"/>
<line x1="709.6" y1="802" x2="859" y2="802" stroke="#e3212b" stroke-width="4" stroke-linecap="butt"/>
<line x1="1070" y1="881.5" x2="1240.6" y2="881.5" stroke="#e3212b" stroke-width="4" stroke-linecap="butt"/>
<path d="M186,714 C190,745 205,775 240.6,797.5 C210,792 180,775 161,750.6 L161,832 L358.75,832 L358.75,733 Q358.75,714 340,714 Z" fill="#6d6d6d"/>
<path d="M207.82,724.39 L208.51,726.24 L210.48,726.32 L208.94,727.55 L209.46,729.45 L207.82,728.37 L206.17,729.45 L206.70,727.55 L205.15,726.32 L207.13,726.24ZM232.19,718.00 L232.93,719.98 L235.05,720.07 L233.39,721.39 L233.96,723.43 L232.19,722.26 L230.43,723.43 L231.00,721.39 L229.34,720.07 L231.45,719.98ZM268.76,717.35 L269.10,718.28 L270.09,718.32 L269.32,718.93 L269.58,719.88 L268.76,719.34 L267.94,719.88 L268.20,718.93 L267.43,718.32 L268.41,718.28ZM253.76,725.41 L254.10,726.34 L255.09,726.38 L254.32,727.00 L254.58,727.95 L253.76,727.40 L252.93,727.95 L253.20,727.00 L252.43,726.38 L253.41,726.34ZM279.07,723.15 L280.21,726.19 L283.45,726.33 L280.91,728.35 L281.78,731.47 L279.07,729.68 L276.37,731.47 L277.23,728.35 L274.70,726.33 L277.94,726.19ZM305.32,721.66 L305.67,722.59 L306.65,722.63 L305.88,723.25 L306.15,724.20 L305.32,723.65 L304.50,724.20 L304.76,723.25 L303.99,722.63 L304.98,722.59ZM324.07,720.06 L324.82,722.04 L326.93,722.14 L325.27,723.45 L325.84,725.49 L324.07,724.32 L322.31,725.49 L322.88,723.45 L321.22,722.14 L323.33,722.04ZM331.58,727.66 L331.92,728.59 L332.91,728.63 L332.13,729.25 L332.40,730.20 L331.58,729.65 L330.75,730.20 L331.02,729.25 L330.24,728.63 L331.23,728.59ZM343.76,725.40 L344.90,728.44 L348.14,728.58 L345.60,730.60 L346.47,733.72 L343.76,731.93 L341.06,733.72 L341.93,730.60 L339.39,728.58 L342.63,728.44ZM299.70,728.88 L300.44,730.86 L302.55,730.95 L300.90,732.27 L301.46,734.30 L299.70,733.14 L297.93,734.30 L298.50,732.27 L296.84,730.95 L298.96,730.86ZM289.38,733.85 L289.73,734.78 L290.72,734.82 L289.94,735.43 L290.21,736.38 L289.38,735.84 L288.56,736.38 L288.83,735.43 L288.05,734.82 L289.04,734.78ZM295.95,733.85 L296.29,734.78 L297.28,734.82 L296.51,735.43 L296.77,736.38 L295.95,735.84 L295.12,736.38 L295.39,735.43 L294.62,734.82 L295.60,734.78ZM319.39,730.38 L320.13,732.36 L322.24,732.45 L320.59,733.77 L321.15,735.80 L319.39,734.64 L317.62,735.80 L318.19,733.77 L316.53,732.45 L318.65,732.36ZM239.69,730.38 L240.43,732.36 L242.55,732.45 L240.89,733.77 L241.46,735.80 L239.69,734.64 L237.93,735.80 L238.50,733.77 L236.84,732.45 L238.95,732.36ZM222.82,733.84 L223.95,736.88 L227.19,737.02 L224.66,739.04 L225.52,742.16 L222.82,740.37 L220.11,742.16 L220.98,739.04 L218.44,737.02 L221.68,736.88ZM242.51,739.19 L243.25,741.17 L245.36,741.26 L243.71,742.58 L244.27,744.62 L242.51,743.45 L240.74,744.62 L241.31,742.58 L239.65,741.26 L241.77,741.17ZM258.45,737.98 L258.79,738.90 L259.78,738.94 L259.00,739.56 L259.27,740.51 L258.45,739.97 L257.62,740.51 L257.89,739.56 L257.11,738.94 L258.10,738.90ZM264.07,735.06 L264.81,737.05 L266.92,737.14 L265.27,738.45 L265.83,740.49 L264.07,739.32 L262.31,740.49 L262.87,738.45 L261.22,737.14 L263.33,737.05ZM307.20,738.92 L307.54,739.84 L308.53,739.88 L307.76,740.50 L308.02,741.45 L307.20,740.90 L306.38,741.45 L306.64,740.50 L305.87,739.88 L306.85,739.84ZM205.00,743.60 L205.35,744.53 L206.34,744.57 L205.56,745.18 L205.83,746.14 L205.00,745.59 L204.18,746.14 L204.45,745.18 L203.67,744.57 L204.66,744.53ZM278.13,742.38 L278.87,744.36 L280.99,744.45 L279.33,745.77 L279.90,747.80 L278.13,746.64 L276.37,747.80 L276.94,745.77 L275.28,744.45 L277.39,744.36ZM295.95,744.53 L297.08,747.57 L300.32,747.71 L297.79,749.73 L298.65,752.85 L295.95,751.06 L293.24,752.85 L294.11,749.73 L291.57,747.71 L294.81,747.57ZM334.39,745.38 L335.13,747.36 L337.24,747.45 L335.59,748.77 L336.15,750.81 L334.39,749.64 L332.62,750.81 L333.19,748.77 L331.53,747.45 L333.65,747.36ZM348.45,744.54 L348.80,745.46 L349.78,745.51 L349.01,746.12 L349.27,747.07 L348.45,746.53 L347.63,747.07 L347.89,746.12 L347.12,745.51 L348.11,745.46ZM263.13,748.85 L263.48,749.78 L264.46,749.82 L263.69,750.43 L263.96,751.39 L263.13,750.84 L262.31,751.39 L262.57,750.43 L261.80,749.82 L262.79,749.78ZM222.82,751.94 L223.56,753.92 L225.67,754.01 L224.02,755.33 L224.58,757.37 L222.82,756.20 L221.05,757.37 L221.62,755.33 L219.97,754.01 L222.08,753.92ZM247.19,752.32 L247.94,754.30 L250.05,754.39 L248.39,755.71 L248.96,757.74 L247.19,756.58 L245.43,757.74 L246.00,755.71 L244.34,754.39 L246.45,754.30ZM253.76,752.32 L254.50,754.30 L256.61,754.39 L254.96,755.71 L255.52,757.74 L253.76,756.58 L251.99,757.74 L252.56,755.71 L250.90,754.39 L253.02,754.30ZM313.76,751.38 L314.50,753.36 L316.61,753.45 L314.96,754.77 L315.52,756.81 L313.76,755.64 L312.00,756.81 L312.56,754.77 L310.91,753.45 L313.02,753.36ZM211.57,760.38 L212.31,762.36 L214.42,762.45 L212.77,763.77 L213.33,765.81 L211.57,764.64 L209.80,765.81 L210.37,763.77 L208.71,762.45 L210.83,762.36ZM233.69,763.00 L234.43,764.98 L236.55,765.08 L234.89,766.39 L235.46,768.43 L233.69,767.26 L231.93,768.43 L232.50,766.39 L230.84,765.08 L232.95,764.98ZM269.32,759.25 L270.06,761.23 L272.17,761.33 L270.52,762.64 L271.08,764.68 L269.32,763.51 L267.56,764.68 L268.12,762.64 L266.47,761.33 L268.58,761.23ZM286.57,758.50 L287.31,760.48 L289.43,760.58 L287.77,761.89 L288.34,763.93 L286.57,762.76 L284.81,763.93 L285.37,761.89 L283.72,760.58 L285.83,760.48ZM281.88,762.35 L282.23,763.28 L283.22,763.32 L282.44,763.94 L282.71,764.89 L281.88,764.34 L281.06,764.89 L281.33,763.94 L280.55,763.32 L281.54,763.28ZM318.45,760.48 L318.79,761.40 L319.78,761.45 L319.01,762.06 L319.27,763.01 L318.45,762.47 L317.63,763.01 L317.89,762.06 L317.12,761.45 L318.10,761.40ZM340.01,760.75 L340.75,762.73 L342.87,762.83 L341.21,764.14 L341.78,766.18 L340.01,765.01 L338.25,766.18 L338.81,764.14 L337.16,762.83 L339.27,762.73ZM217.19,767.88 L217.93,769.86 L220.05,769.95 L218.39,771.27 L218.96,773.31 L217.19,772.14 L215.43,773.31 L215.99,771.27 L214.34,769.95 L216.45,769.86ZM253.76,770.03 L254.89,773.07 L258.13,773.21 L255.60,775.23 L256.46,778.35 L253.76,776.56 L251.05,778.35 L251.92,775.23 L249.38,773.21 L252.62,773.07ZM295.95,768.90 L297.08,771.94 L300.32,772.08 L297.79,774.10 L298.65,777.23 L295.95,775.44 L293.24,777.23 L294.11,774.10 L291.57,772.08 L294.81,771.94ZM273.45,774.44 L274.19,776.42 L276.30,776.52 L274.64,777.83 L275.21,779.87 L273.45,778.70 L271.68,779.87 L272.25,777.83 L270.59,776.52 L272.71,776.42ZM302.51,768.92 L302.86,769.84 L303.84,769.88 L303.07,770.50 L303.33,771.45 L302.51,770.90 L301.69,771.45 L301.95,770.50 L301.18,769.88 L302.17,769.84ZM283.76,774.54 L284.11,775.47 L285.09,775.51 L284.32,776.12 L284.58,777.07 L283.76,776.53 L282.94,777.07 L283.20,776.12 L282.43,775.51 L283.41,775.47ZM319.39,774.25 L320.13,776.24 L322.24,776.33 L320.59,777.64 L321.15,779.68 L319.39,778.51 L317.62,779.68 L318.19,777.64 L316.53,776.33 L318.65,776.24ZM332.51,776.97 L333.65,780.00 L336.89,780.15 L334.35,782.16 L335.22,785.29 L332.51,783.50 L329.81,785.29 L330.68,782.16 L328.14,780.15 L331.38,780.00ZM347.51,778.29 L347.86,779.22 L348.85,779.26 L348.07,779.87 L348.34,780.83 L347.51,780.28 L346.69,780.83 L346.95,779.87 L346.18,779.26 L347.17,779.22ZM234.07,777.35 L234.41,778.28 L235.40,778.32 L234.63,778.94 L234.89,779.89 L234.07,779.34 L233.25,779.89 L233.51,778.94 L232.74,778.32 L233.72,778.28ZM238.76,783.92 L239.10,784.84 L240.09,784.89 L239.32,785.50 L239.58,786.45 L238.76,785.91 L237.93,786.45 L238.20,785.50 L237.43,784.89 L238.41,784.84ZM257.51,782.04 L257.85,782.97 L258.84,783.01 L258.07,783.62 L258.33,784.58 L257.51,784.03 L256.69,784.58 L256.95,783.62 L256.18,783.01 L257.16,782.97ZM170.32,772.29 L170.66,773.22 L171.65,773.26 L170.87,773.87 L171.14,774.82 L170.32,774.28 L169.49,774.82 L169.76,773.87 L168.98,773.26 L169.97,773.22ZM178.75,779.13 L179.49,781.11 L181.61,781.20 L179.95,782.52 L180.52,784.56 L178.75,783.39 L176.99,784.56 L177.55,782.52 L175.90,781.20 L178.01,781.11ZM170.32,785.13 L171.06,787.11 L173.17,787.20 L171.51,788.52 L172.08,790.56 L170.32,789.39 L168.55,790.56 L169.12,788.52 L167.46,787.20 L169.57,787.11ZM178.75,794.78 L179.89,797.82 L183.13,797.96 L180.59,799.98 L181.46,803.10 L178.75,801.31 L176.05,803.10 L176.92,799.98 L174.38,797.96 L177.62,797.82ZM192.82,793.29 L193.16,794.22 L194.15,794.26 L193.38,794.88 L193.64,795.83 L192.82,795.28 L191.99,795.83 L192.26,794.88 L191.48,794.26 L192.47,794.22ZM206.88,793.01 L207.62,794.99 L209.73,795.08 L208.08,796.40 L208.64,798.43 L206.88,797.27 L205.12,798.43 L205.68,796.40 L204.03,795.08 L206.14,794.99ZM198.44,805.76 L199.18,807.74 L201.29,807.83 L199.64,809.15 L200.21,811.18 L198.44,810.02 L196.68,811.18 L197.24,809.15 L195.59,807.83 L197.70,807.74ZM220.94,804.54 L221.29,805.47 L222.27,805.51 L221.50,806.13 L221.77,807.08 L220.94,806.53 L220.12,807.08 L220.38,806.13 L219.61,805.51 L220.60,805.47ZM183.44,813.92 L183.79,814.84 L184.77,814.89 L184.00,815.50 L184.26,816.45 L183.44,815.91 L182.62,816.45 L182.88,815.50 L182.11,814.89 L183.10,814.84Z" fill="#fff"/>
<path d="M140.3,840.6 L273.9,863.75 L275.3,889.5 L141.25,861.25 Z" fill="#fafafa" stroke="#6d6d6d" stroke-width="1.2"/>
<path d="M273.9,863.75 L390.3,818.3 L389.6,838.2 L275.3,889.5 Z" fill="#fafafa" stroke="#6d6d6d" stroke-width="1.2"/>
<path d="M141.25,861.25 L275.3,889.5 L389.6,838.2" fill="none" stroke="#6d6d6d" stroke-width="3.2" stroke-linejoin="round" stroke-linecap="round" />
<path d="M273.9,864.5 Q271,877 275.3,889 Q277,877 273.9,864.5 Z" fill="#6d6d6d" stroke="#6d6d6d" stroke-width="1.6"/>
<path d="M140.3,840.6 L232.7,810 Q260,815 285,821 L294,825 L300,819.7 L342,829.7 L350.6,832.5 L356,828.2 L372,822 L343.75,833 L273.9,863.75 Q205,850 140.3,840.6 Z" fill="#e3212b"/>
<path d="M232.7,809.8 Q234,801 248,797 Q262,791 271,788.5 Q274,784.5 281,786.5 Q302,788 322,795 Q332,797 346,796 Q372,801 390.3,811.2 Q387,815 372,821 Q362,826 357,829 Q352,834 346.5,831 Q330,826 305,820 Q299,821 295,825.4 Q289,827 285,821 Q262,815 232.7,809.8 Z" fill="#fff" stroke="#8a8a8a" stroke-width="0.9"/>
<path d="M300.8,790 Q315,793 325,798.4" fill="none" stroke="#8a8a8a" stroke-width="0.8" stroke-linejoin="round" stroke-linecap="round" />
<path d="M240,806 Q265,812 285,818" fill="none" stroke="#9a9a9a" stroke-width="0.7" stroke-linejoin="round" stroke-linecap="round" />
<path d="M300,817 Q325,822 350,829" fill="none" stroke="#9a9a9a" stroke-width="0.7" stroke-linejoin="round" stroke-linecap="round" />
<path d="M293.75,811.2 Q300,800 318,800.5 Q316,803 318,803.5 Q302,803 293.75,811.2 Z" fill="#6d6d6d" stroke="#6d6d6d" stroke-width="1.2"/>
<path d="M354.8,821.8 Q362,810 379,809.5 Q377,812 379,812.5 Q364,813 354.8,821.8 Z" fill="#6d6d6d" stroke="#6d6d6d" stroke-width="1.2"/>
<path d="M137.5,871 L275,904 L395.5,846" fill="none" stroke="#e3212b" stroke-width="3" stroke-linejoin="miter"/>
<path d="M155,867 L137.5,871 L145,883" fill="none" stroke="#e3212b" stroke-width="3" stroke-linejoin="miter"/>
<path d="M382,845.75 L395.5,846 L390.75,860.75" fill="none" stroke="#e3212b" stroke-width="3" stroke-linejoin="miter"/>
<path d="M383,818 L389,816" stroke="#e3212b" stroke-width="2"/>
<text x="398" y="823" font-size="39.4" font-weight="bold" fill="#6a6a6a" textLength="168" lengthAdjust="spacingAndGlyphs">290 x 125</text>
<g transform="translate(438.00,131.00) rotate(0)"><text x="-1.10" y="0" font-size="31.52" font-weight="bold" fill="#000" stroke="#000" stroke-width="0.45" textLength="53.71" lengthAdjust="spacingAndGlyphs">348</text><text x="52.90" y="0" font-size="31.52" fill="#000" stroke="#fff" stroke-width="0.5" textLength="49.71" lengthAdjust="spacingAndGlyphs">cm</text></g>
<g transform="translate(961.50,129.00) rotate(0)"><text x="-1.15" y="0" font-size="32.95" font-weight="bold" fill="#000" stroke="#000" stroke-width="0.45" textLength="54.81" lengthAdjust="spacingAndGlyphs">205</text><text x="53.85" y="0" font-size="32.95" fill="#000" stroke="#fff" stroke-width="0.5" textLength="52.31" lengthAdjust="spacingAndGlyphs">cm</text></g>
<g transform="translate(281.00,282.20) rotate(0)"><text x="-1.13" y="0" font-size="32.23" font-weight="bold" fill="#000" stroke="#000" stroke-width="0.45" textLength="36.86" lengthAdjust="spacingAndGlyphs">28</text><text x="35.87" y="0" font-size="32.23" fill="#000" stroke="#fff" stroke-width="0.5" textLength="49.56" lengthAdjust="spacingAndGlyphs">cm</text></g>
<g transform="translate(743.75,699.00) rotate(0)"><text x="-1.17" y="0" font-size="33.52" font-weight="bold" fill="#000" stroke="#000" stroke-width="0.45" textLength="38.00" lengthAdjust="spacingAndGlyphs">88</text><text x="36.98" y="0" font-size="33.52" fill="#000" stroke="#fff" stroke-width="0.5" textLength="48.35" lengthAdjust="spacingAndGlyphs">cm</text></g>
<g transform="translate(920.00,679.40) rotate(0)"><text x="-1.17" y="0" font-size="33.52" font-weight="bold" fill="#000" stroke="#000" stroke-width="0.45" textLength="52.05" lengthAdjust="spacingAndGlyphs">135</text><text x="51.03" y="0" font-size="33.52" fill="#000" stroke="#fff" stroke-width="0.5" textLength="49.35" lengthAdjust="spacingAndGlyphs">cm</text></g>
<g transform="translate(1086.00,704.70) rotate(0)"><text x="-1.14" y="0" font-size="32.52" font-weight="bold" fill="#000" stroke="#000" stroke-width="0.45" textLength="36.28" lengthAdjust="spacingAndGlyphs">59</text><text x="35.86" y="0" font-size="32.52" fill="#000" stroke="#fff" stroke-width="0.5" textLength="49.88" lengthAdjust="spacingAndGlyphs">cm</text></g>
<g transform="translate(733.40,796.00) rotate(0)"><text x="-1.13" y="0" font-size="32.38" font-weight="bold" fill="#000" stroke="#000" stroke-width="0.45" textLength="52.87" lengthAdjust="spacingAndGlyphs">100</text><text x="51.97" y="0" font-size="32.38" fill="#000" stroke="#fff" stroke-width="0.5" textLength="49.07" lengthAdjust="spacingAndGlyphs">cm</text></g>
<g transform="translate(1084.00,776.00) rotate(0)"><text x="-1.13" y="0" font-size="32.38" font-weight="bold" fill="#000" stroke="#000" stroke-width="0.45" textLength="35.27" lengthAdjust="spacingAndGlyphs">62</text><text x="34.87" y="0" font-size="32.38" fill="#000" stroke="#fff" stroke-width="0.5" textLength="49.77" lengthAdjust="spacingAndGlyphs">cm</text></g>
<g transform="translate(1094.40,875.30) rotate(0)"><text x="-1.13" y="0" font-size="32.23" font-weight="bold" fill="#000" stroke="#000" stroke-width="0.45" textLength="34.86" lengthAdjust="spacingAndGlyphs">98</text><text x="34.47" y="0" font-size="32.23" fill="#000" stroke="#fff" stroke-width="0.5" textLength="48.26" lengthAdjust="spacingAndGlyphs">cm</text></g>
<g transform="translate(900.00,950.00) rotate(0)"><text x="-1.15" y="0" font-size="32.95" font-weight="bold" fill="#000" stroke="#000" stroke-width="0.45" textLength="53.81" lengthAdjust="spacingAndGlyphs">348</text><text x="52.85" y="0" font-size="32.95" fill="#000" stroke="#fff" stroke-width="0.5" textLength="49.81" lengthAdjust="spacingAndGlyphs">cm</text></g>
<g transform="translate(1265.10,230.50) rotate(90)"><text x="-1.20" y="0" font-size="34.38" font-weight="bold" fill="#000" stroke="#000" stroke-width="0.45" textLength="34.21" lengthAdjust="spacingAndGlyphs">76</text><text x="34.80" y="0" font-size="34.38" fill="#000" stroke="#fff" stroke-width="0.5" textLength="49.31" lengthAdjust="spacingAndGlyphs">cm</text></g>
<g transform="translate(709.40,381.50) rotate(90)"><text x="-1.25" y="0" font-size="35.82" font-weight="bold" fill="#000" stroke="#000" stroke-width="0.45" textLength="32.51" lengthAdjust="spacingAndGlyphs">41</text><text x="34.75" y="0" font-size="35.82" fill="#000" stroke="#fff" stroke-width="0.5" textLength="49.01" lengthAdjust="spacingAndGlyphs">cm</text></g>
<g transform="translate(1266.00,682.00) rotate(90)"><text x="-1.25" y="0" font-size="35.82" font-weight="bold" fill="#000" stroke="#000" stroke-width="0.45" textLength="54.11" lengthAdjust="spacingAndGlyphs">205</text><text x="53.65" y="0" font-size="35.82" fill="#000" stroke="#fff" stroke-width="0.5" textLength="48.91" lengthAdjust="spacingAndGlyphs">cm</text></g>
<g transform="translate(142.50,371.50) rotate(-90)"><text x="-1.25" y="0" font-size="35.82" font-weight="bold" fill="#000" stroke="#000" stroke-width="0.45" textLength="36.51" lengthAdjust="spacingAndGlyphs">62</text><text x="35.75" y="0" font-size="35.82" fill="#000" stroke="#fff" stroke-width="0.5" textLength="49.51" lengthAdjust="spacingAndGlyphs">cm</text></g>
<g transform="translate(1126.00,430.20) rotate(-90)"><text x="-1.13" y="0" font-size="32.23" font-weight="bold" fill="#000" stroke="#000" stroke-width="0.45" textLength="17.76" lengthAdjust="spacingAndGlyphs">5</text><text x="18.17" y="0" font-size="32.23" fill="#000" stroke="#fff" stroke-width="0.5" textLength="48.66" lengthAdjust="spacingAndGlyphs">cm</text></g>
<g transform="translate(635.75,744.00) rotate(-90)"><text x="-1.19" y="0" font-size="34.03" font-weight="bold" fill="#000" stroke="#000" stroke-width="0.45" textLength="52.38" lengthAdjust="spacingAndGlyphs">155</text><text x="51.81" y="0" font-size="34.03" fill="#000" stroke="#fff" stroke-width="0.5" textLength="50.38" lengthAdjust="spacingAndGlyphs">cm</text></g>
<g transform="translate(417.00,186.50) rotate(79)"><text x="-1.20" y="0" font-size="34.38" font-weight="bold" fill="#000" stroke="#000" stroke-width="0.45" textLength="36.41" lengthAdjust="spacingAndGlyphs">40</text><text x="35.80" y="0" font-size="34.38" fill="#000" stroke="#fff" stroke-width="0.5" textLength="51.41" lengthAdjust="spacingAndGlyphs">cm</text></g>
<g transform="translate(550.00,260.50) rotate(10)"><text x="-1.20" y="0" font-size="34.38" font-weight="bold" fill="#000" stroke="#000" stroke-width="0.45" textLength="35.41" lengthAdjust="spacingAndGlyphs">64</text><text x="33.80" y="0" font-size="34.38" fill="#000" stroke="#fff" stroke-width="0.5" textLength="49.41" lengthAdjust="spacingAndGlyphs">cm</text></g>
<g transform="translate(643.00,272.50) rotate(-7.5)"><text x="-1.18" y="0" font-size="33.67" font-weight="bold" fill="#000" stroke="#000" stroke-width="0.45" textLength="48.86" lengthAdjust="spacingAndGlyphs">135</text><text x="47.82" y="0" font-size="33.67" fill="#000" stroke="#fff" stroke-width="0.5" textLength="52.36" lengthAdjust="spacingAndGlyphs">cm</text></g>
<g transform="translate(499.00,288.50) rotate(15.5)"><text x="-1.15" y="0" font-size="32.95" font-weight="bold" fill="#000" stroke="#000" stroke-width="0.45" textLength="50.31" lengthAdjust="spacingAndGlyphs">128</text><text x="48.85" y="0" font-size="32.95" fill="#000" stroke="#fff" stroke-width="0.5" textLength="49.31" lengthAdjust="spacingAndGlyphs">cm</text></g>
<g transform="translate(557.50,384.00) rotate(-14.6)"><text x="-1.18" y="0" font-size="33.67" font-weight="bold" fill="#000" stroke="#000" stroke-width="0.45" textLength="52.36" lengthAdjust="spacingAndGlyphs">100</text><text x="51.32" y="0" font-size="33.67" fill="#000" stroke="#fff" stroke-width="0.5" textLength="50.36" lengthAdjust="spacingAndGlyphs">cm</text></g>
<g transform="translate(862.75,253.00) rotate(-10.5)"><text x="-1.15" y="0" font-size="32.95" font-weight="bold" fill="#000" stroke="#000" stroke-width="0.45" textLength="36.31" lengthAdjust="spacingAndGlyphs">62</text><text x="34.85" y="0" font-size="32.95" fill="#000" stroke="#fff" stroke-width="0.5" textLength="48.31" lengthAdjust="spacingAndGlyphs">cm</text></g>
<g transform="translate(968.00,267.60) rotate(7.9)"><text x="-1.15" y="0" font-size="32.95" font-weight="bold" fill="#000" stroke="#000" stroke-width="0.45" textLength="50.31" lengthAdjust="spacingAndGlyphs">176</text><text x="48.85" y="0" font-size="32.95" fill="#000" stroke="#fff" stroke-width="0.5" textLength="50.31" lengthAdjust="spacingAndGlyphs">cm</text></g>
<g transform="translate(1145.00,292.00) rotate(-21)"><text x="-1.15" y="0" font-size="32.95" font-weight="bold" fill="#000" stroke="#000" stroke-width="0.45" textLength="38.31" lengthAdjust="spacingAndGlyphs">98</text><text x="36.85" y="0" font-size="32.95" fill="#000" stroke="#fff" stroke-width="0.5" textLength="46.31" lengthAdjust="spacingAndGlyphs">cm</text></g>
<g transform="translate(187.60,369.60) rotate(33)"><text x="-1.20" y="0" font-size="34.38" font-weight="bold" fill="#000" stroke="#000" stroke-width="0.45" textLength="36.41" lengthAdjust="spacingAndGlyphs">95</text><text x="34.80" y="0" font-size="34.38" fill="#000" stroke="#fff" stroke-width="0.5" textLength="49.41" lengthAdjust="spacingAndGlyphs">cm</text></g>
<g transform="translate(194.00,502.50) rotate(38)"><text x="-1.20" y="0" font-size="34.38" font-weight="bold" fill="#000" stroke="#000" stroke-width="0.45" textLength="52.41" lengthAdjust="spacingAndGlyphs">155</text><text x="50.80" y="0" font-size="34.38" fill="#000" stroke="#fff" stroke-width="0.5" textLength="50.41" lengthAdjust="spacingAndGlyphs">cm</text></g>
</svg></body></html>
